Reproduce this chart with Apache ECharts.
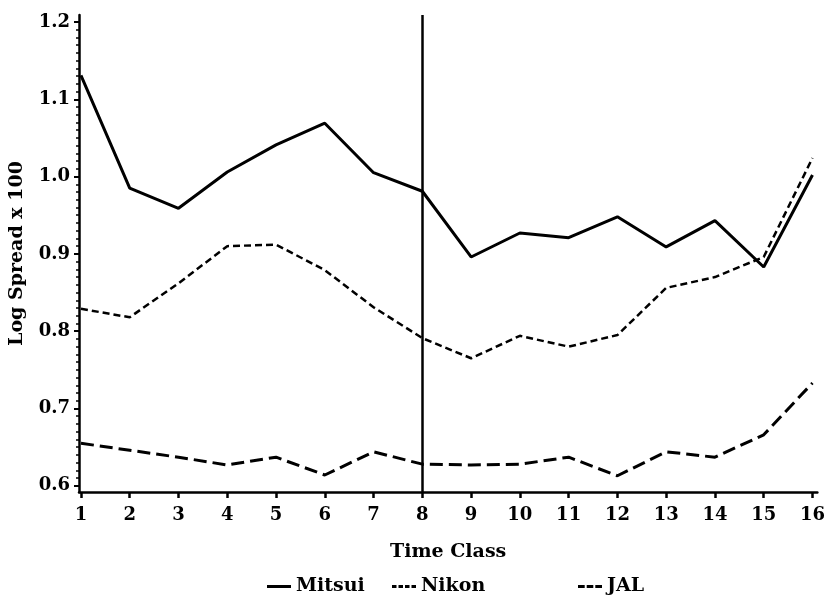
<!DOCTYPE html>
<html>
<head>
<meta charset="utf-8">
<script src="https://cdn.jsdelivr.net/npm/echarts@6/dist/echarts.min.js"></script>
<style>
html,body{margin:0;padding:0;background:#fff;}
#chart{width:828px;height:598px;}
</style>
</head>
<body>
<div id="chart"></div>
<script>
var timeClasses = [1,2,3,4,5,6,7,8,9,10,11,12,13,14,15,16];
var mitsui = [1.131,0.985,0.959,1.006,1.041,1.069,1.005,0.981,0.896,0.927,0.921,0.948,0.909,0.943,0.883,1.002];
var nikon  = [0.829,0.818,0.862,0.910,0.912,0.879,0.831,0.791,0.765,0.794,0.780,0.795,0.856,0.870,0.896,1.024];
var jal    = [0.655,0.646,0.637,0.627,0.637,0.614,0.644,0.628,0.627,0.628,0.637,0.613,0.644,0.637,0.666,0.733];
var yTickLabels = [0.6,0.7,0.8,0.9,1.0,1.1,1.2];
var xTickLabels = [1,2,3,4,5,6,7,8,9,10,11,12,13,14,15,16];
var markerClass = 8;
var seriesNames = ['Mitsui','Nikon','JAL'];

var FONT = '"DejaVu Serif", serif';
function pairs(vals){ return timeClasses.map(function(t,i){ return [t, vals[i]]; }); }
var minorY = [];
for (var k = 60; k <= 120; k++) minorY.push(k/100);

var legendText = {fontFamily:FONT, fontWeight:'bold', fontSize:19, color:'#000'};
var icons = [
  'path://M0,0h24v3h-24z',
  'path://M0,0h4.5v3h-4.5z M6.5,0h4.5v3h-4.5z M13,0h4.5v3h-4.5z M19.5,0h4.5v3h-4.5z',
  'path://M0,0h6.7v3h-6.7z M8.7,0h6.6v3h-6.6z M17.3,0h6.7v3h-6.7z'
];
var legendLefts = [267, 392, 578];

var chart = echarts.init(document.getElementById('chart'), null, {renderer:'canvas'});
chart.setOption({
  animation:false,
  backgroundColor:'#fff',
  grid:{left:78, right:10, top:15, bottom:106, containLabel:false},
  legend: seriesNames.map(function(n,i){
    return {left:legendLefts[i], bottom:2, padding:0, itemWidth:24, itemHeight:3, icon:icons[i],
      textStyle:legendText, data:[n], selectedMode:false};
  }),
  xAxis:{
    type:'value', min:0.96, max:16.1,
    name:'Time Class', nameLocation:'middle', nameGap:51,
    nameTextStyle:{fontFamily:FONT, fontWeight:'bold', fontSize:19, color:'#000'},
    axisLine:{show:true, lineStyle:{color:'#000', width:2.5}},
    axisTick:{show:true, inside:false, length:6, lineStyle:{color:'#000', width:2.5}, customValues:xTickLabels},
    axisLabel:{customValues:xTickLabels, margin:14, fontFamily:FONT, fontWeight:'bold', fontSize:18, color:'#000'},
    splitLine:{show:false}
  },
  yAxis:[{
    type:'value', min:0.592, max:1.209,
    name:'Log Spread x 100', nameLocation:'middle', nameGap:52,
    nameTextStyle:{fontFamily:FONT, fontWeight:'bold', fontSize:19, color:'#000'},
    axisLine:{show:true, lineStyle:{color:'#000', width:2.5}},
    axisTick:{show:true, inside:false, length:5, lineStyle:{color:'#000', width:2}, customValues:yTickLabels},
    axisLabel:{customValues:yTickLabels, margin:9, fontFamily:FONT, fontWeight:'bold', fontSize:18, color:'#000',
      formatter:function(v){ return v.toFixed(1); }},
    splitLine:{show:false}
  },{
    type:'value', min:0.592, max:1.209, position:'left',
    axisLine:{show:false},
    axisTick:{show:true, inside:false, length:3, lineStyle:{color:'#000', width:1.5}, customValues:minorY},
    axisLabel:{show:false},
    splitLine:{show:false}
  }],
  series:[
    {name:'Mitsui', type:'line', data:pairs(mitsui), symbol:'none', lineStyle:{color:'#000', width:3, type:'solid'}, itemStyle:{color:'#000'},
      markLine:{symbol:['none','none'], silent:true, label:{show:false}, lineStyle:{color:'#000', width:2.5, type:'solid'}, data:[{xAxis:markerClass}]}},
    {name:'Nikon', type:'line', data:pairs(nikon), symbol:'none', lineStyle:{color:'#000', width:2.5, type:[7,4]}, itemStyle:{color:'#000'}},
    {name:'JAL', type:'line', data:pairs(jal), symbol:'none', lineStyle:{color:'#000', width:3, type:[13,6]}, itemStyle:{color:'#000'}}
  ]
});
</script>
</body>
</html>
